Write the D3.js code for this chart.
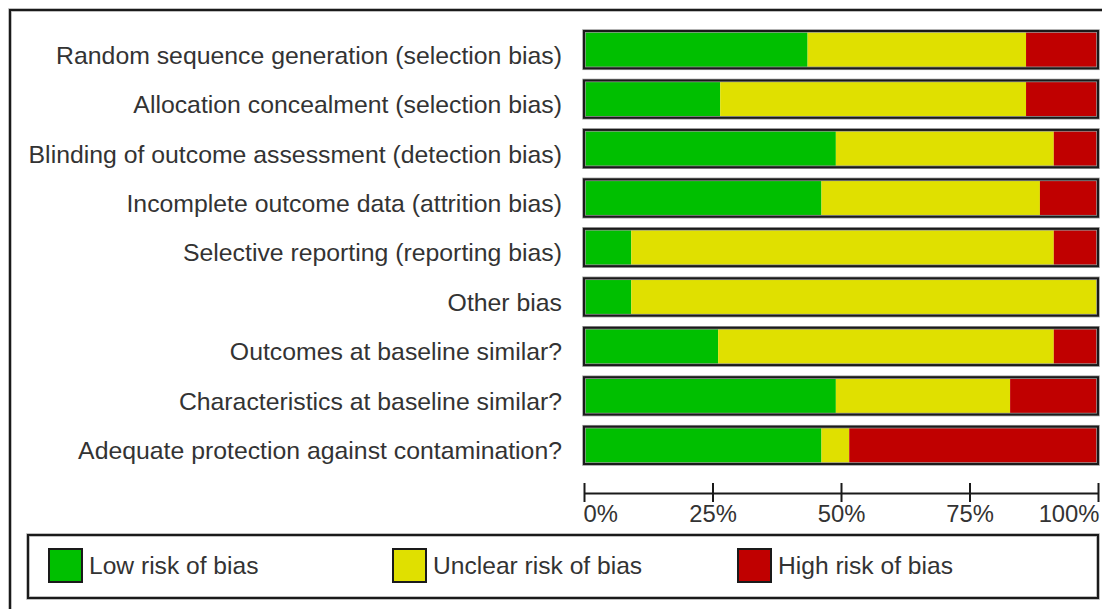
<!DOCTYPE html>
<html>
<head>
<meta charset="utf-8">
<script src="https://cdn.jsdelivr.net/npm/d3@7"></script>
<style>
  html, body { margin: 0; padding: 0; background: #fff; }
  svg { display: block; }
  text { font-family: "Liberation Sans", Arial, sans-serif; fill: #333; }
</style>
</head>
<body>
<svg id="chart" width="1102" height="609"></svg>
<script>
const categories = [
  "Random sequence generation (selection bias)",
  "Allocation concealment (selection bias)",
  "Blinding of outcome assessment (detection bias)",
  "Incomplete outcome data (attrition bias)",
  "Selective reporting (reporting bias)",
  "Other bias",
  "Outcomes at baseline similar?",
  "Characteristics at baseline similar?",
  "Adequate protection against contamination?"
];
const lowRisk     = [43.5, 26.5, 49.0, 46.2,  9.2,  9.2, 26.1, 49.0, 46.2];
const unclearRisk = [42.5, 59.5, 42.4, 42.5, 82.2, 90.8, 65.3, 33.9,  5.4];
const highRisk    = [14.0, 14.0,  8.6, 11.3,  8.6,  0.0,  8.6, 17.1, 48.4];
const seriesNames = ["Low risk of bias", "Unclear risk of bias", "High risk of bias"];
const seriesColors = ["#00bf00", "#e0e000", "#c00000"];
const tickValues = [0, 25, 50, 75, 100];
const tickLabels = ["0%", "25%", "50%", "75%", "100%"];

const svg = d3.select("#chart");

// outer frame (runs off the right and bottom edges)
svg.append("rect").attr("x", 10).attr("y", 10).attr("width", 1200).attr("height", 700)
  .attr("fill", "none").attr("stroke", "#aaa").attr("stroke-width", 3.5);
svg.append("rect").attr("x", 10).attr("y", 10).attr("width", 1200).attr("height", 700)
  .attr("fill", "none").attr("stroke", "#1a1a1a").attr("stroke-width", 2);

const x = d3.scaleLinear().domain([0, 100]).range([584, 1098]);
const y = d3.scaleBand().domain(categories).range([31, 464]).paddingInner(0.2455).paddingOuter(0);

const rows = categories.map((c, i) => {
  const vals = [lowRisk[i], unclearRisk[i], highRisk[i]];
  let acc = 0;
  const segs = vals.map((v, k) => { const s = { x0: acc, x1: acc + v, k }; acc += v; return s; });
  return { c, segs };
});

const rowG = svg.append("g").selectAll("g").data(rows).join("g");

rowG.each(function(r) {
  const g = d3.select(this);
  g.selectAll("rect.seg").data(r.segs.filter(s => s.x1 > s.x0)).join("rect")
    .attr("class", "seg")
    .attr("x", s => x(s.x0))
    .attr("width", s => x(s.x1) - x(s.x0))
    .attr("y", y(r.c))
    .attr("height", y.bandwidth())
    .attr("fill", s => seriesColors[s.k]);
  g.append("rect")
    .attr("x", x(0)).attr("y", y(r.c))
    .attr("width", x(100) - x(0)).attr("height", y.bandwidth())
    .attr("fill", "none").attr("stroke", "#999").attr("stroke-width", 3.5);
  g.append("rect")
    .attr("x", x(0)).attr("y", y(r.c))
    .attr("width", x(100) - x(0)).attr("height", y.bandwidth())
    .attr("fill", "none").attr("stroke", "#1a1a1a").attr("stroke-width", 2);
  g.append("text")
    .attr("x", 562)
    .attr("y", y(r.c) + y.bandwidth() / 2 + 5)
    .attr("dy", "0.36em")
    .attr("text-anchor", "end")
    .attr("font-size", 24.8)
    .text(r.c);
});

// axis
const axisY = 493;
const axisG = svg.append("g").attr("transform", `translate(0,${axisY})`);
axisG.call(d3.axisBottom(x).tickValues(tickValues).tickSize(0).tickFormat(""))
  .call(g => g.select(".domain").attr("stroke", "#1a1a1a").attr("stroke-width", 2));
axisG.selectAll(".tick line").remove();
axisG.selectAll(".tick").append("line")
  .attr("y1", -10).attr("y2", 9)
  .attr("stroke", "#1a1a1a").attr("stroke-width", 2);
axisG.selectAll(".tick text").remove();
axisG.selectAll(".tick").append("text")
  .attr("y", 29)
  .attr("font-size", 23.8)
  .attr("fill", "#222")
  .attr("text-anchor", (d, i) => i === 0 ? "start" : (i === tickValues.length - 1 ? "end" : "middle"))
  .attr("x", (d, i) => i === 0 ? -1 : (i === tickValues.length - 1 ? 1 : 0))
  .text((d, i) => tickLabels[i]);

// legend
const legend = svg.append("g");
legend.append("rect").attr("x", 28).attr("y", 535).attr("width", 1070).attr("height", 63)
  .attr("fill", "none").attr("stroke", "#aaa").attr("stroke-width", 3.5);
legend.append("rect").attr("x", 28).attr("y", 535).attr("width", 1070).attr("height", 63)
  .attr("fill", "none").attr("stroke", "#1a1a1a").attr("stroke-width", 2);
const legendX = [49, 393, 738];
const li = legend.selectAll("g.item").data(seriesNames).join("g").attr("class", "item")
  .attr("transform", (d, i) => `translate(${legendX[i]},549)`);
li.append("rect").attr("width", 33).attr("height", 33)
  .attr("fill", (d, i) => seriesColors[i]).attr("stroke", "#1a1a1a").attr("stroke-width", 2);
li.append("text").attr("x", 40).attr("y", 16.5).attr("dy", "0.36em")
  .attr("font-size", 24.6).attr("fill", "#222").text(d => d);
</script>
</body>
</html>
